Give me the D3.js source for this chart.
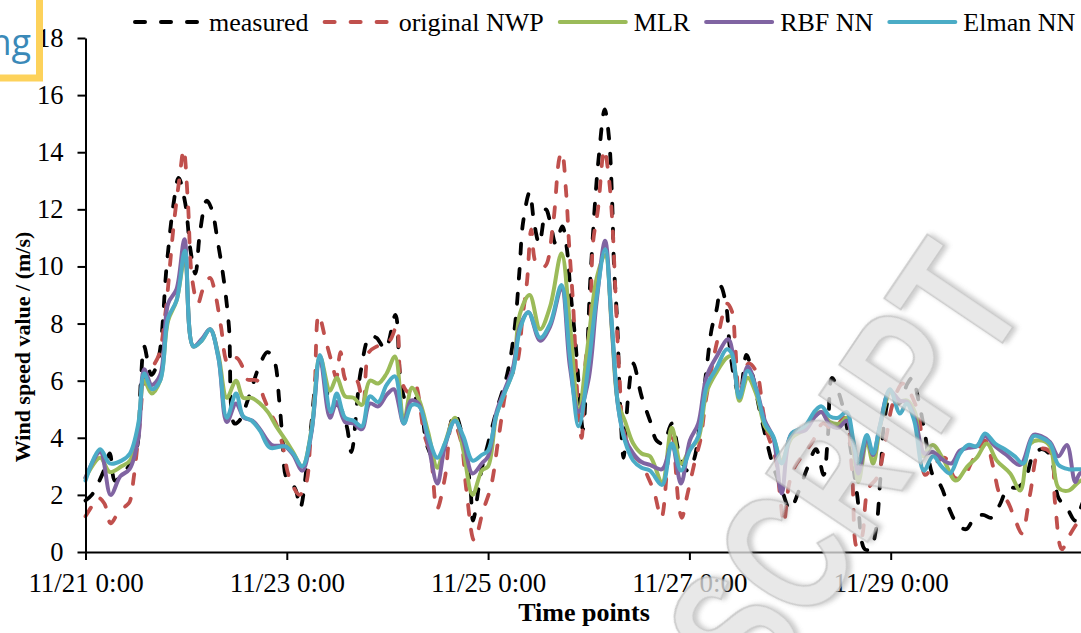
<!DOCTYPE html>
<html>
<head>
<meta charset="utf-8">
<script src="https://cdn.jsdelivr.net/npm/d3@7"></script>
<style>
  body { margin: 0; background: #fff; }
  svg { display: block; }
</style>
</head>
<body>
<svg id="chart" width="1081" height="633"></svg>
<script>
// Hourly wind speed readings, 11/21 0:00 onward: [hour, m/s]
const measured = [[0,1.8],[1.5,2.0],[3,2.4],[4.5,2.9],[5.8,3.45],[7,2.5],[8.6,2.7],[10.5,3.05],[12.2,3.6],[13.2,6.0],[14,7.2],[15.7,6.2],[17.3,6.7],[19.4,10.1],[21,12.2],[22.2,13.1],[23.8,12.2],[25,10.6],[26.2,9.75],[27.3,11.2],[28.9,12.3],[30.1,12.0],[31.5,10.9],[33,9.5],[34.2,7.9],[35.5,4.5],[36.7,4.6],[39,5.45],[41.4,6.5],[43.4,7.0],[45,6.7],[46.2,5.3],[47,3.9],[47.8,2.65],[49,2.45],[50.2,2.15],[51.2,1.55],[53.5,4.0],[55.9,6.8],[58.3,5.3],[60.5,5.1],[62.3,4.4],[63.4,3.5],[65.6,6.3],[67.8,7.55],[69.4,7.5],[71.5,7.1],[73.9,8.3],[75.1,6.1],[76.5,5.3],[78.5,5.4],[80,5.0],[81.5,3.7],[83.5,3.2],[85.7,3.7],[88,4.85],[90.1,3.9],[91.8,2.2],[92.4,1.1],[94.4,2.85],[96,3.8],[98,4.95],[100.6,6.25],[102.3,7.8],[103.5,9.9],[104.3,11.5],[105.9,12.6],[107,11.5],[108.2,10.8],[109.8,12.0],[110.9,11.5],[112.1,10.8],[113.7,11.4],[114.8,10.6],[115.6,9.2],[116.8,7.4],[117.7,5.7],[118.6,4.3],[120.4,9.6],[121.6,12.45],[122.4,13.85],[123.8,15.5],[124.8,14.55],[125.6,12.2],[126,10.1],[126.8,8.0],[127.5,5.1],[128.3,3.3],[129.4,5.45],[130.6,6.6],[132.6,5.45],[134.6,4.6],[136.2,3.9],[137.8,3.8],[139.8,4.5],[141.5,3.5],[143.5,2.85],[145,3.2],[146.5,4.5],[148,6.3],[149.3,7.8],[150.5,8.5],[151.5,9.3],[152.8,8.6],[153.6,7.2],[154.8,6.0],[156,5.45],[157.6,6.9],[159.2,6.1],[160.7,5.0],[162,4.15],[164,3.0],[166,2.2],[168,1.5],[170,2.1],[172,2.9],[174.2,3.6],[176,2.7],[177,4.0],[178,6.1],[180,5.4],[182,4.0],[184,2.0],[185.8,0.1],[187.2,0.1],[188.5,0.8],[189.5,2.5],[190.5,4.6],[192,5.5],[194,5.2],[196,5.9],[197.2,6.1],[198.5,5.4],[200,4.3],[202,2.7],[204,2.3],[206,1.5],[208,0.95],[210,0.8],[212,1.2],[214,1.3],[216,1.2],[218,1.65],[220,2.25],[222,2.25],[224,2.5],[226,3.4],[228,3.6],[230,3.4],[232,1.9],[234,1.55],[236,1.1],[238,1.8],[240,2.2]];

const originalNWP = [[0,1.25],[1.5,1.6],[3,1.9],[4.5,1.7],[6,1.0],[7.5,1.3],[9.5,1.6],[10.5,1.75],[11.5,2.6],[12.8,4.3],[14.5,6.3],[16,6.5],[17.5,6.9],[19,8.3],[21,11.4],[22.5,13.2],[23.4,14.1],[24.4,12.3],[25.4,9.6],[26.8,8.7],[28,9.2],[29.7,9.6],[31,9.0],[32.3,7.9],[34,6.6],[36,6.8],[37.4,6.5],[38.5,6.05],[41,6.0],[42.5,5.4],[44,4.9],[45.7,4.4],[47.2,3.6],[48.2,2.8],[49.5,2.3],[51,2.0],[52.6,2.4],[53.6,3.8],[54.6,5.5],[55.6,8.3],[57.3,7.4],[58.8,6.6],[59.8,6.1],[60.8,7.0],[62.2,6.0],[64.5,6.05],[66.2,5.2],[67.6,7.0],[69.5,7.2],[72.5,7.4],[74.2,7.9],[75.3,6.0],[77,5.6],[78.5,5.9],[80.8,4.1],[82.3,3.4],[83.8,1.5],[85.7,2.6],[87.5,4.6],[89.5,3.9],[90.8,2.2],[92.7,0.4],[94.8,1.45],[96.7,2.3],[98.6,4.1],[100.7,5.9],[102.9,6.6],[104.2,8.2],[105.3,9.5],[106.3,11.3],[107.5,10.1],[109.5,10.0],[111.5,11.5],[113,13.8],[113.6,14.0],[114.6,12.6],[115.3,10.8],[116.3,8.6],[117.5,5.0],[118.3,4.0],[119.2,6.6],[120.3,8.0],[121,10.8],[122.2,12.0],[123.7,14.1],[124.8,13.1],[125.6,11.6],[126.4,9.0],[127.3,6.2],[128.4,4.2],[130.6,3.4],[132.6,3.1],[134.2,2.6],[135.6,2.1],[137.3,1.2],[138.8,3.1],[139.8,4.4],[141.5,1.6],[142.2,1.2],[143.5,2.0],[145.5,3.3],[146.6,3.9],[147.8,5.2],[148.5,5.8],[150.5,7.3],[153,8.7],[154.2,8.4],[154.9,7.3],[156,5.5],[158.1,6.6],[160,6.3],[161.5,5.0],[162.5,4.2],[164.5,3.3],[165.6,2.0],[166.5,1.0],[167.8,2.4],[169.2,3.0],[171.6,3.5],[173.5,3.9],[175.8,4.5],[178.2,4.3],[181.1,4.7],[182.7,3.0],[183.9,0.2],[185.1,0.5],[186.6,2.2],[188.7,2.6],[190.9,4.0],[192.5,5.2],[194.9,5.9],[197.8,5.2],[199,4.5],[200.2,2.7],[202.6,3.1],[204.9,3.3],[207.3,2.6],[209.2,2.6],[211.5,3.2],[214.5,3.9],[216.4,3.0],[218.1,2.0],[219.7,1.8],[221.5,1.2],[223.3,0.65],[225.2,2.0],[227.6,3.6],[230,3.5],[231.2,1.7],[232.8,0.1],[234.7,0.6],[237.4,1.2],[240,1.6]];

const mlr = [[0,2.6],[3.5,3.3],[5.8,2.8],[8.6,3.0],[10.6,3.2],[12.6,4.4],[14,6.0],[15.8,5.55],[17.8,6.0],[19.7,8.1],[21.7,8.8],[23.7,10.3],[25.7,7.2],[27.7,7.4],[29.7,7.8],[31.7,6.9],[33.7,5.4],[35.9,6.0],[37.6,5.4],[39.6,5.4],[41.6,5.2],[43.5,4.9],[45.5,4.4],[47.8,3.9],[49.5,3.5],[51.7,3.0],[53.9,4.3],[55.9,6.85],[58.3,5.65],[59.9,6.1],[61.9,5.45],[63.9,5.4],[65.9,5.15],[67.8,6.0],[69.8,5.9],[71.8,6.25],[73.8,6.85],[75.9,4.55],[77.8,5.75],[79.6,5.3],[81.7,4.2],[83.9,2.95],[85.7,3.8],[88.1,4.7],[90.1,3.55],[92.3,2.0],[94.5,2.85],[96,3.0],[98,4.8],[100,5.6],[102,6.4],[103.6,8.35],[105.9,9.0],[108.4,7.8],[110.8,8.6],[113.5,10.45],[115.5,8.0],[117.6,5.0],[119.9,7.4],[121.9,9.6],[123.9,10.4],[125.5,7.8],[127,5.2],[128.6,4.6],[130.6,3.8],[132.6,3.45],[134.6,3.35],[137.5,2.45],[139.8,4.35],[142,3.1],[144.1,3.6],[146.1,3.95],[148.1,5.6],[150.5,6.3],[152.9,6.8],[154.1,6.85],[155.9,5.3],[157.9,6.1],[160,5.5],[162,4.4],[164,4.0],[166,3.2],[168.4,4.0],[171.5,4.3],[174,4.8],[175.5,4.9],[177.5,4.55],[180,4.5],[181.5,4.7],[183.1,3.55],[184.3,2.45],[186.3,3.9],[187.8,3.1],[189.7,4.55],[192,5.6],[194,5.3],[196,5.3],[197.9,4.85],[199.5,3.35],[202,3.75],[204.7,3.2],[207.5,2.5],[210.3,3.0],[212.5,3.3],[214.9,3.8],[217.3,3.2],[220.5,2.75],[222.9,2.15],[225.3,3.8],[228,3.9],[230,3.7],[232,2.25],[234.4,2.15],[236.8,2.45],[240,2.7]];

const rbfNN = [[0,2.6],[3.5,3.5],[6,2.0],[8.3,2.65],[10.5,2.9],[12.6,4.0],[14,6.4],[15.8,5.85],[17.8,6.2],[19.7,8.7],[21.7,9.2],[23.6,10.95],[25.7,7.2],[27.7,7.45],[29.7,7.8],[31.7,6.8],[33.7,4.55],[35.9,5.2],[37.8,4.7],[39.8,4.6],[41.6,4.3],[44.4,3.75],[47.6,3.7],[49.5,3.4],[51.7,2.85],[53.9,4.2],[55.9,6.8],[58.3,4.7],[59.9,5.25],[61.9,4.55],[63.9,4.5],[65.9,4.3],[67.8,5.2],[69.8,5.1],[71.8,5.5],[73.5,5.7],[75.9,4.5],[77.6,5.3],[79.4,5.2],[81.7,3.8],[83.9,2.4],[85.7,3.7],[88.1,4.6],[90.1,3.9],[92.3,2.75],[94.5,3.1],[96,3.35],[98,4.9],[100,5.7],[102,6.5],[103.6,7.9],[105.6,8.4],[108.4,7.4],[110.8,7.9],[113.5,9.25],[115.5,6.5],[117.6,4.9],[119.9,6.0],[121.9,8.8],[123.9,10.9],[125.5,7.9],[127,5.1],[128.6,4.0],[130.6,3.45],[132.6,3.15],[134.6,3.05],[137.5,2.9],[139.8,3.75],[142,2.4],[144.1,3.9],[146.1,4.5],[148.1,6.15],[150.5,6.85],[153.3,7.45],[155.9,5.5],[157.9,6.5],[160,5.7],[162,4.6],[164,4.0],[166,2.05],[168.4,4.15],[171.5,4.25],[174,4.75],[175.5,4.9],[177.5,4.45],[179.5,4.35],[181.5,4.6],[183.1,3.75],[184.3,2.75],[186.3,4.0],[187.8,3.4],[189.4,4.4],[191.8,5.65],[194.2,5.3],[196,5.25],[197.9,4.6],[200,3.45],[202,3.5],[204.7,3.2],[206.5,3.1],[208.5,3.55],[210.5,3.65],[212.5,3.7],[214.5,4.05],[216.9,3.7],[219.6,3.4],[222.9,3.05],[226,4.1],[228,4.05],[230,3.85],[232,3.35],[234,3.75],[236,2.45],[237.1,2.75],[240,2.9]];

const elmanNN = [[0,2.5],[3.5,3.6],[5.8,3.1],[8.6,3.2],[10.6,3.45],[12.6,4.5],[14,6.25],[15.8,5.7],[17.8,6.0],[19.7,8.2],[21.7,8.8],[23.7,10.55],[25.7,7.2],[27.7,7.4],[29.7,7.8],[31.7,6.8],[33.7,4.7],[35.9,5.55],[37.6,4.75],[39.6,4.6],[41.6,4.25],[44,3.65],[47.6,3.7],[49.5,3.45],[51.7,3.0],[53.9,4.25],[55.9,6.9],[58.5,4.9],[59.9,5.55],[61.9,4.7],[63.9,4.6],[65.9,4.4],[67.8,5.45],[69.8,5.25],[71.8,5.85],[73.8,6.15],[75.9,4.5],[77.8,5.15],[79.6,5.1],[81.7,4.05],[83.9,3.3],[85.7,3.8],[88.1,4.6],[90.1,4.05],[92.3,3.2],[94.5,3.4],[96,3.55],[98,4.8],[100,5.6],[102,6.35],[103.6,7.8],[105.6,8.4],[108.4,7.5],[110.8,8.0],[113.5,9.35],[115.5,6.85],[117.6,4.4],[119.9,6.5],[121.9,8.95],[123.9,10.6],[125.5,8.0],[127,5.1],[128.6,3.9],[130.6,3.2],[132.6,2.95],[134.6,2.85],[137.5,2.35],[139.8,3.8],[142,2.85],[144.1,3.55],[146.1,4.05],[148.1,5.8],[150.5,6.45],[152.9,7.1],[154.1,6.95],[155.9,5.4],[157.9,6.35],[160,5.65],[162,4.5],[164,4.05],[166,3.1],[168.4,4.15],[171.5,4.4],[174,4.95],[175.5,5.1],[177.5,4.75],[179.5,4.7],[181.5,4.9],[183.1,3.9],[184.3,3.1],[186.3,4.1],[187.8,3.45],[189.4,4.4],[191.8,5.7],[194.2,4.85],[195.8,5.2],[197.6,4.6],[199.9,2.85],[202.1,3.35],[204.1,3.0],[206.1,2.75],[208.5,3.45],[210.5,3.75],[212.5,3.7],[214.5,4.15],[216.9,3.8],[219.2,3.6],[221.6,3.35],[223.6,3.1],[226,4.05],[228,4.0],[230,3.8],[232,3.05],[234.4,2.9],[237.1,2.9],[240,2.9]];

const seriesNames  = ["measured", "original NWP", "MLR", "RBF NN", "Elman NN"];
const seriesData   = [measured, originalNWP, mlr, rbfNN, elmanNN];
const seriesColors = ["#000000", "#c0504d", "#9bbb59", "#8064a2", "#4bacc6"];
const seriesDashed = [true, true, false, false, false];

const tickHours  = [0, 48, 96, 144, 192];
const tickLabels = ["11/21 0:00", "11/23 0:00", "11/25 0:00", "11/27 0:00", "11/29 0:00"];
const yTicks     = [0, 2, 4, 6, 8, 10, 12, 14, 16, 18];

const FONT = "'Liberation Serif', 'Times New Roman', serif";
const svg = d3.select("#chart");
svg.append("rect").attr("width", 1081).attr("height", 633).attr("fill", "#fff");

const x = d3.scaleLinear().domain([0, 240]).range([85.5, 1092]);
const y = d3.scaleLinear().domain([0, 18]).range([552, 38]);

// series lines
const line = d3.line()
  .x(d => x(d[0]))
  .y(d => y(d[1]))
  .curve(d3.curveCatmullRom.alpha(0.5));

const plot = svg.append("g");
seriesData.forEach((data, i) => {
  plot.append("path")
    .datum(data)
    .attr("d", line)
    .attr("fill", "none")
    .attr("stroke", seriesColors[i])
    .attr("stroke-width", seriesDashed[i] ? 3.8 : 4)
    .attr("stroke-linecap", "round")
    .attr("stroke-linejoin", "round")
    .attr("stroke-dasharray", seriesDashed[i] ? "10,15" : null);
});

// axes
const yAxis = svg.append("g")
  .attr("transform", `translate(${x(0)},0)`)
  .call(d3.axisLeft(y).tickValues(yTicks).tickSize(8).tickSizeOuter(0).tickPadding(14));
const xAxis = svg.append("g")
  .attr("transform", `translate(0,${y(0)})`)
  .call(d3.axisBottom(x).tickValues(tickHours).tickFormat((d, i) => tickLabels[i])
    .tickSize(8).tickSizeOuter(0).tickPadding(13));
[yAxis, xAxis].forEach(g => {
  g.selectAll("path, line").attr("stroke", "#000").attr("stroke-width", 2);
  g.selectAll("text").attr("font-family", FONT).attr("font-size", 26.5).attr("fill", "#000");
});
xAxis.selectAll("text").attr("font-size", 27);

// axis titles
svg.append("text")
  .attr("x", 584).attr("y", 621)
  .attr("text-anchor", "middle")
  .attr("font-family", FONT).attr("font-size", 26).attr("font-weight", "bold")
  .text("Time points");
svg.append("text")
  .attr("transform", "translate(30,347) rotate(-90)")
  .attr("text-anchor", "middle")
  .attr("font-family", FONT).attr("font-size", 22).attr("font-weight", "bold")
  .text("Wind speed value / (m/s)");

// legend
const legend = svg.append("g");
let lx = 133;
seriesNames.forEach((name, i) => {
  legend.append("line")
    .attr("x1", lx + 2).attr("x2", lx + 68).attr("y1", 22).attr("y2", 22)
    .attr("stroke", seriesColors[i])
    .attr("stroke-width", 4)
    .attr("stroke-linecap", "round")
    .attr("stroke-dasharray", seriesDashed[i] ? "10,16" : null);
  const t = legend.append("text")
    .attr("x", lx + 76).attr("y", 31)
    .attr("font-family", FONT).attr("font-size", 26).attr("fill", "#000")
    .text(name);
  lx += 76 + t.node().getComputedTextLength() + 14;
});

// page overlay: diagonal watermark
const defs = svg.append("defs");
const f = defs.append("filter").attr("id", "emboss").attr("x", "-10%").attr("y", "-10%").attr("width", "120%").attr("height", "120%");
f.append("feDropShadow").attr("dx", 2).attr("dy", 3).attr("stdDeviation", 2.5)
  .attr("flood-color", "#777").attr("flood-opacity", 0.5);
svg.append("text")
  .attr("transform", "translate(1030,302) rotate(-56)")
  .attr("text-anchor", "end")
  .attr("font-family", "'Liberation Sans', Arial, sans-serif")
  .attr("font-weight", "bold")
  .attr("font-size", 178)
  .attr("textLength", 481)
  .attr("lengthAdjust", "spacingAndGlyphs")
  .attr("fill", "#e2e2e2")
  .attr("stroke", "#bdbdbd")
  .attr("stroke-width", 2)
  .attr("opacity", 0.78)
  .attr("filter", "url(#emboss)")
  .text("SCRIPT");

// page overlay: corner badge
svg.append("rect")
  .attr("x", -10).attr("y", -10).attr("width", 49.5).attr("height", 88)
  .attr("fill", "#fff").attr("stroke", "#fdd25b").attr("stroke-width", 7);
svg.append("text")
  .attr("x", 31).attr("y", 55)
  .attr("text-anchor", "end")
  .attr("font-family", "'Open Sans', sans-serif")
  .attr("font-size", 36)
  .attr("fill", "#3a89b8")
  .text("ng");
</script>
</body>
</html>
